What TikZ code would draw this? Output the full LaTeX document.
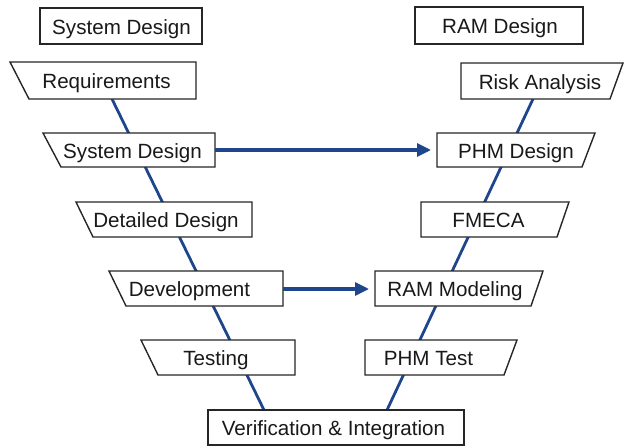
\documentclass[tikz,border=0pt]{standalone}
\usepackage{fontspec}
\setmainfont{Liberation Sans}
\usetikzlibrary{arrows.meta}
\definecolor{vblue}{RGB}{31,70,140}
\tikzset{
  boxline/.style={draw=black!85, line width=1.4pt, fill=white, line join=miter},
  lbl/.style={anchor=base, inner sep=0pt, font=\fontsize{20.6}{24}\selectfont, text=black!90},
  vline/.style={draw=vblue, line width=2.8pt},
  harrow/.style={draw=vblue, line width=3.2pt, -{Triangle[length=14pt,width=13pt]}}
}
% left-slanted box: name, xTL, xBL, xR, ytop, ybot, text x, text
\newcommand\lslbox[8]{%
  \draw[boxline] (#2,#5) -- (#4,#5) -- (#4,#6) -- (#3,#6) -- cycle;
  \node[lbl] (#1) at (#7,{(#5+#6)/2+8.3}) {#8};}
% right-slanted box: name, xL, xTR, xBR, ytop, ybot, text x, text
\newcommand\rslbox[8]{%
  \draw[boxline] (#2,#5) -- (#3,#5) -- (#4,#6) -- (#2,#6) -- cycle;
  \node[lbl] (#1) at (#7,{(#5+#6)/2+8.3}) {#8};}
\newcommand\rectbox[7]{%
  \draw[boxline] (#2,#3) rectangle (#4,#5);
  \node[lbl] (#1) at (#6,{(#3+#5)/2+8.3}) {#7};}
\begin{document}
\begin{tikzpicture}[x=1pt,y=-1pt]
\useasboundingbox (0,0) rectangle (624,447);
% V connectors (drawn first, boxes cover them)
\coordinate (lTop) at (112,99);
\coordinate (lBot) at (264,410);
\coordinate (rTop) at (533,99);
\coordinate (rBot) at (387,410);
\draw[vline] (lTop) -- (lBot);
\draw[vline] (rTop) -- (rBot);
% headers
\rectbox{hl}{40}{8}{202}{44}{121.5}{System Design}
\rectbox{hr}{415}{7}{583}{44}{500}{RAM Design}
% left column
\lslbox{req}{10}{29}{196}{62}{99}{106.5}{Requirements}
\lslbox{sysd}{43}{61}{215}{133}{167}{132.5}{System Design}
\lslbox{det}{76}{93}{252}{202}{237}{166}{Detailed Design}
\lslbox{dev}{109}{126}{283}{271}{306}{189.5}{Development}
\lslbox{tst}{141}{158}{295}{340}{375}{216}{Testing}
% bottom
\rectbox{ver}{208}{410}{464}{445}{333.5}{Verification \& Integration}
% right column
\rslbox{risk}{461}{623}{610}{63}{99}{540}{Risk Analysis}
\rslbox{phmd}{437}{595}{582}{133}{167}{516}{PHM Design}
\rslbox{fmeca}{421}{569}{557}{202}{237}{488.5}{FMECA}
\rslbox{ramm}{375}{543}{531}{271}{306}{455}{RAM Modeling}
\rslbox{phmt}{365}{517}{504}{340}{375}{428.5}{PHM Test}
% horizontal arrows
\coordinate (a1s) at (215,150);
\coordinate (a1e) at (431,150);
\coordinate (a2s) at (283,289);
\coordinate (a2e) at (369,289);
\draw[harrow] (a1s) -- (a1e);
\draw[harrow] (a2s) -- (a2e);
\end{tikzpicture}
\end{document}
